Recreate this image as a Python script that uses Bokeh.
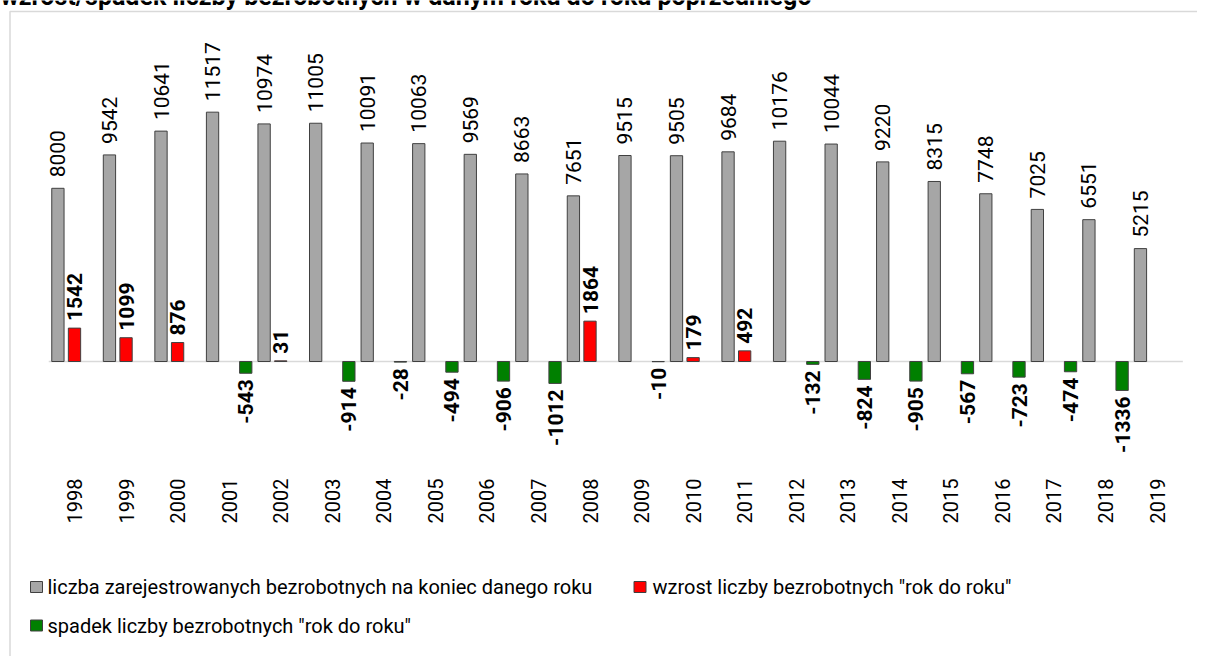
import math
from bokeh.plotting import figure
from bokeh.models import ColumnDataSource, Range1d
from bokeh.transform import dodge
from bokeh.core.properties import value
from bokeh.embed import file_html
from bokeh.resources import INLINE

# ---------------- data ----------------
lata = ["1998", "1999", "2000", "2001", "2002", "2003", "2004", "2005", "2006", "2007", "2008",
        "2009", "2010", "2011", "2012", "2013", "2014", "2015", "2016", "2017", "2018", "2019"]
liczba_bezrobotnych = [8000, 9542, 10641, 11517, 10974, 11005, 10091, 10063, 9569, 8663, 7651,
                       9515, 9505, 9684, 10176, 10044, 9220, 8315, 7748, 7025, 6551, 5215]
zmiana_rdr = [1542, 1099, 876, -543, 31, -914, -28, -494, -906, -1012, 1864,
              -10, 179, 492, -132, -824, -905, -567, -723, -474, -1336, None]

tytul = "wzrost/spadek liczby bezrobotnych w danym roku do roku poprzedniego"
legenda_etykiety = ["liczba zarejestrowanych bezrobotnych na koniec danego roku",
                    "wzrost liczby bezrobotnych \"rok do roku\"",
                    "spadek liczby bezrobotnych \"rok do roku\""]
kolor_szary, kolor_czerwony, kolor_zielony = "#a6a6a6", "#ff0000", "#008000"
legenda_kolory = [kolor_szary, kolor_czerwony, kolor_zielony]

# ---------------- layout constants (pixels) ----------------
W, H = 1197, 656
CAT_PX = 51.55          # pixels per category
FIRST_CAT_PX = 74.0     # canvas x of first category centre
ZERO_PX = 361.0         # canvas y of value 0
K = 0.02165             # pixels per unit
X0 = -FIRST_CAT_PX / CAT_PX
X1 = X0 + W / CAT_PX
Y1 = ZERO_PX / K
Y0 = -(H - ZERO_PX) / K


def px_x(cx):
    return X0 + cx / CAT_PX


def px_y(cy):
    return (ZERO_PX - cy) / K


SLOT = 16.6 / CAT_PX
BW = 12.3 / CAT_PX
NAN = float("nan")

idx = list(range(len(lata)))
wzrost = [z if (z is not None and z > 0) else NAN for z in zmiana_rdr]
spadek = [z if (z is not None and z < 0) else NAN for z in zmiana_rdr]

src = ColumnDataSource(dict(
    i=idx,
    lat=lata,
    liczba=liczba_bezrobotnych,
    liczba_txt=[str(v) for v in liczba_bezrobotnych],
    liczba_ly=[v + 11 / K for v in liczba_bezrobotnych],
    wzrost=wzrost,
    spadek=spadek,
    year_y=[px_y(523)] * len(lata),
))

wz_i = [i for i, z in enumerate(zmiana_rdr) if z is not None and z > 0]
sp_i = [i for i, z in enumerate(zmiana_rdr) if z is not None and z < 0]
src_wz = ColumnDataSource(dict(i=wz_i, t=[str(zmiana_rdr[i]) for i in wz_i],
                               y=[zmiana_rdr[i] + 7 / K for i in wz_i]))
src_sp = ColumnDataSource(dict(i=sp_i, t=[str(zmiana_rdr[i]) for i in sp_i],
                               y=[zmiana_rdr[i] - 6 / K for i in sp_i]))

p = figure(width=W, height=H, x_range=Range1d(X0, X1), y_range=Range1d(Y0, Y1),
           output_backend="svg", toolbar_location=None, min_border=0,
           x_axis_type=None, y_axis_type=None)
p.grid.visible = False
p.outline_line_color = None
p.background_fill_color = "white"
p.border_fill_color = "white"

FONT = value("Roboto")

# chart area border (light grey)
p.line(x=[px_x(9.5), px_x(9.5), px_x(W + 10)], y=[px_y(H + 10), px_y(11), px_y(11)],
       line_color="#d9d9d9", line_width=1.5)

# title (cut by the top edge, as in the original)
p.text(x=[px_x(0)], y=[px_y(-4.5)], text=[tytul], text_font=FONT, text_font_style="bold",
       text_font_size="25px", text_baseline="alphabetic", text_align="left", text_color="#000000")

# zero line
p.line(x=[-0.5, len(lata) - 0.5], y=[0, 0], line_color="#d9d9d9", line_width=1.5)

# bars
p.vbar(x=dodge("i", -SLOT, range=None), top="liczba", bottom=0, width=BW, source=src,
       fill_color=kolor_szary, line_color="#404040", line_width=1)
p.vbar(x="i", top="wzrost", bottom=0, width=BW, source=src,
       fill_color=kolor_czerwony, line_color="#404040", line_width=1)
p.vbar(x=dodge("i", SLOT, range=None), top="spadek", bottom=0, width=BW, source=src,
       fill_color=kolor_zielony, line_color="#404040", line_width=1)

# value labels
p.text(x=dodge("i", -SLOT, range=None), y="liczba_ly", text="liczba_txt", source=src,
       angle=math.pi / 2, text_align="left", text_baseline="middle",
       text_font=FONT, text_font_size="21px", text_color="#000000")
p.text(x="i", y="y", text="t", source=src_wz,
       angle=math.pi / 2, text_align="left", text_baseline="middle",
       text_font=FONT, text_font_style="bold", text_font_size="21px", text_color="#000000")
p.text(x=dodge("i", SLOT, range=None), y="y", text="t", source=src_sp,
       angle=math.pi / 2, text_align="right", text_baseline="middle",
       text_font=FONT, text_font_style="bold", text_font_size="21px", text_color="#000000")

# category labels
p.text(x="i", y="year_y", text="lat", source=src,
       angle=math.pi / 2, text_align="left", text_baseline="middle",
       text_font=FONT, text_font_size="20px", text_color="#000000")

# legend
leg_sq_x = [px_x(36), px_x(639.5), px_x(36)]
leg_y = [px_y(586.5), px_y(586.5), px_y(625)]
leg_tx = [px_x(47), px_x(652), px_x(47)]
leg_src = ColumnDataSource(dict(x=leg_sq_x, y=leg_y, tx=leg_tx, c=legenda_kolory, t=legenda_etykiety))
p.rect(x="x", y="y", width=12, height=11, width_units="screen", height_units="screen",
       fill_color="c", line_color="#404040", line_width=1, source=leg_src)
p.text(x="tx", y="y", text="t", source=leg_src, text_align="left", text_baseline="middle",
       text_font=FONT, text_font_size="20px", text_color="#000000")

open("out.html", "w").write(file_html(p, INLINE))
